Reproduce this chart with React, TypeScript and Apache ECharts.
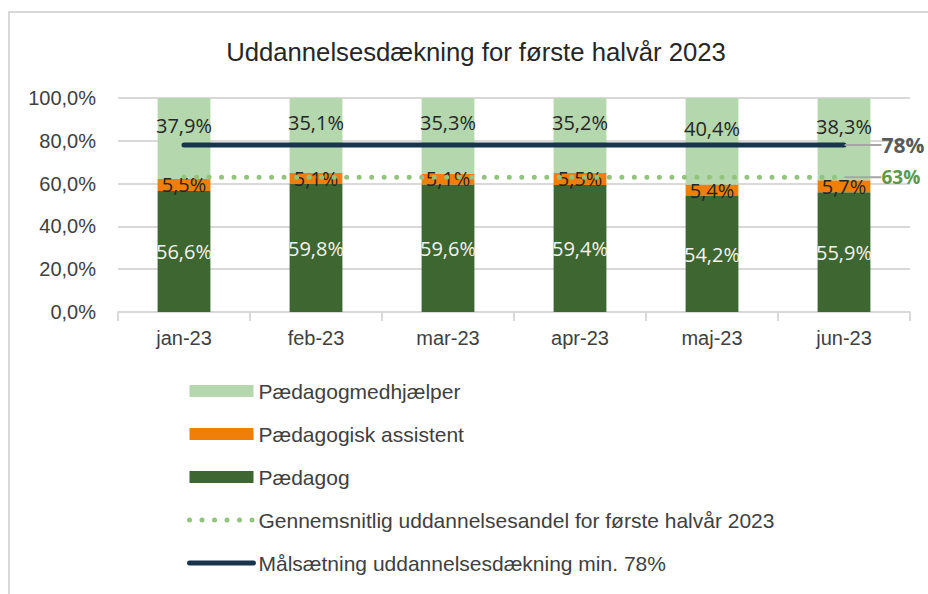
import React, { useEffect, useRef } from "react";
import * as echarts from "echarts";

const categories = ["jan-23", "feb-23", "mar-23", "apr-23", "maj-23", "jun-23"];
const paedagog = [56.6, 59.8, 59.6, 59.4, 54.2, 55.9];
const assistent = [5.5, 5.1, 5.1, 5.5, 5.4, 5.7];
const medhjaelper = [37.9, 35.1, 35.3, 35.2, 40.4, 38.3];
const average = [63, 63, 63, 63, 63, 63];
const target = [78, 78, 78, 78, 78, 78];
const yTicks = [0, 20, 40, 60, 80, 100];

const TITLE = "Uddannelsesdækning for første halvår 2023";
const N_MEDHJ = "Pædagogmedhjælper";
const N_ASSIST = "Pædagogisk assistent";
const N_PAED = "Pædagog";
const N_AVG = "Gennemsnitlig uddannelsesandel for første halvår 2023";
const N_TARGET = "Målsætning uddannelsesdækning min. 78%";

const CAL = "'Liberation Sans', Arial, sans-serif";
const LBL = "'Open Sans', 'DejaVu Sans', sans-serif";

const C_AVG = "#93c47d";
const C_TARGET = "#17364d";
const DOTS = [0.01, 12.5];

const fmt = (v: number) => v.toFixed(1).replace(".", ",") + "%";

export default function App() {
  const ref = useRef<HTMLDivElement>(null);
  useEffect(() => {
    if (!ref.current) return;
    const chart = echarts.init(ref.current, undefined, { renderer: "svg" });
    const lastIdx = categories.length - 1;
    const endLabelData = (arr: number[], label: any) =>
      arr.map((v, i) =>
        i === lastIdx
          ? {
              value: v,
              label: { show: true, ...label },
              labelLine: { show: true, lineStyle: { color: "#a6a6a6", width: 2 } },
            }
          : v
      );
    chart.setOption({
      animation: false,
      backgroundColor: "#ffffff",
      title: {
        text: TITLE,
        left: 471,
        top: 34,
        textAlign: "center",
        textStyle: { fontFamily: CAL, fontSize: 25.7, fontWeight: "normal", color: "#262626" },
      },
      graphic: [
        {
          type: "rect",
          shape: { x: 9, y: 12, width: 1000, height: 1000 },
          style: { fill: "none", stroke: "#d9d9d9", lineWidth: 2 },
          silent: true,
        },
      ],
      grid: { left: 118, right: 18, top: 98, bottom: 282 },
      legend: {
        orient: "vertical",
        left: 182,
        top: 375,
        itemWidth: 64,
        itemHeight: 12,
        itemGap: 21,
        textStyle: { fontFamily: CAL, fontSize: 21, color: "#404040", lineHeight: 22 },
        data: [
          { name: N_MEDHJ, icon: "rect" },
          { name: N_ASSIST, icon: "rect" },
          { name: N_PAED, icon: "rect" },
          {
            name: N_AVG,
            itemStyle: { opacity: 0 },
            lineStyle: { color: C_AVG, width: 5, type: DOTS, cap: "round" },
          },
          {
            name: N_TARGET,
            itemStyle: { opacity: 0 },
            lineStyle: { color: C_TARGET, width: 5, cap: "round" },
          },
        ],
      },
      xAxis: {
        type: "category",
        data: categories,
        axisLine: { lineStyle: { color: "#d9d9d9", width: 2 } },
        axisTick: { show: true, length: 9, lineStyle: { color: "#d9d9d9", width: 2 } },
        axisLabel: { fontFamily: CAL, fontSize: 20, color: "#404040", margin: 16 },
      },
      yAxis: {
        type: "value",
        min: 0,
        max: 100,
        interval: 20,
        axisLine: { show: false },
        axisTick: { show: false },
        splitLine: { lineStyle: { color: "#d9d9d9", width: 2 } },
        axisLabel: {
          fontFamily: CAL,
          fontSize: 20,
          color: "#404040",
          margin: 22,
          formatter: (v: number) => (yTicks.includes(v) ? fmt(v) : ""),
        },
      },
      series: [
        {
          name: N_PAED,
          type: "bar",
          stack: "s",
          barWidth: "40%",
          data: paedagog,
          itemStyle: { color: "#3e6631" },
          label: {
            show: true,
            position: "inside",
            formatter: (p: any) => fmt(p.value),
            fontFamily: LBL,
            fontSize: 20,
            color: "#f2f2f2",
          },
        },
        {
          name: N_ASSIST,
          type: "bar",
          stack: "s",
          data: assistent,
          itemStyle: { color: "#f07f09" },
          label: {
            show: true,
            position: "inside",
            formatter: (p: any) => fmt(p.value),
            fontFamily: LBL,
            fontSize: 20,
            color: "#262626",
          },
        },
        {
          name: N_MEDHJ,
          type: "bar",
          stack: "s",
          data: medhjaelper,
          itemStyle: { color: "#b4d7ae" },
          label: {
            show: true,
            position: "inside",
            offset: [0, -13],
            formatter: (p: any) => fmt(p.value),
            fontFamily: LBL,
            fontSize: 20,
            color: "#262626",
          },
        },
        {
          name: N_AVG,
          type: "line",
          data: endLabelData(average, {
            position: "right",
            distance: 4,
            formatter: (p: any) => p.value + "%",
            fontFamily: LBL,
            fontSize: 19,
            fontWeight: "bold",
            color: "#5a9a4a",
          }),
          symbol: "circle",
          symbolSize: 1,
          showSymbol: true,
          z: 5,
          labelLayout: { dx: 33 },
          lineStyle: { color: C_AVG, width: 5, type: DOTS, cap: "round" },
          itemStyle: { color: C_AVG },
        },
        {
          name: N_TARGET,
          type: "line",
          data: endLabelData(target, {
            position: "right",
            distance: 4,
            formatter: (p: any) => p.value + "%",
            fontFamily: LBL,
            fontSize: 21,
            fontWeight: "bold",
            color: "#595959",
          }),
          symbol: "circle",
          symbolSize: 1,
          showSymbol: true,
          z: 6,
          labelLayout: { dx: 33 },
          lineStyle: { color: C_TARGET, width: 5, cap: "round" },
          itemStyle: { color: C_TARGET },
        },
      ],
    });
    return () => chart.dispose();
  }, []);
  return <div ref={ref} style={{ position: "absolute", left: 0, top: 0, width: 928, height: 594 }} />;
}
